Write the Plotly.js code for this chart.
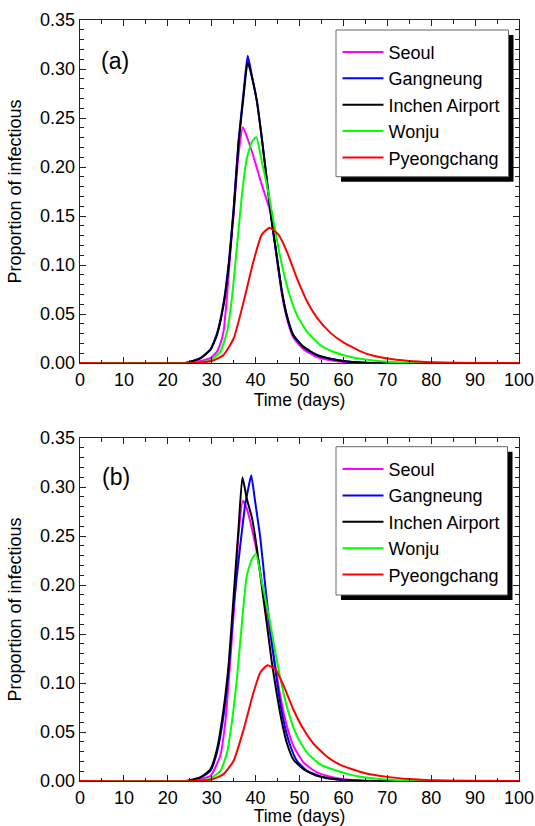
<!DOCTYPE html>
<html><head><meta charset="utf-8">
<script src="https://cdn.plot.ly/plotly-3.0.1.min.js"></script>
<style>html,body{margin:0;padding:0;background:#fff;}#chart{width:535px;height:826px;}</style>
</head><body><div id="chart"></div>
<script>
// ---------- data ----------
const seriesNames = ['Seoul', 'Gangneung', 'Inchen Airport', 'Wonju', 'Pyeongchang'];
const seriesColors = ['#ff00ff', '#0000ff', '#000000', '#00ff00', '#ff0000'];
const xTickVals = [0, 10, 20, 30, 40, 50, 60, 70, 80, 90, 100];
const yTickVals = [0.00, 0.05, 0.10, 0.15, 0.20, 0.25, 0.30, 0.35];
const panelLabels = ['(a)', '(b)'];

// Panel (a)
const tSeoulA = [0, 20, 25, 27.4, 29.7, 31.2, 32.0, 32.7, 33.5, 34.6, 35.0, 36.1, 37.1, 38.4, 39.9, 41.4, 43.3, 44.9, 46.0, 47.1, 48.6, 50.9, 54.0, 58, 62, 68, 100];
const ySeoulA = [0, 0, 0, 0.002, 0.005, 0.0116, 0.02, 0.032, 0.069, 0.134, 0.152, 0.212, 0.2405, 0.226, 0.205, 0.182, 0.155, 0.105, 0.070, 0.046, 0.026, 0.014, 0.006, 0.002, 0.0006, 0, 0];
const tGangA = [0, 20, 24, 27.4, 29.7, 31.2, 32.7, 33.9, 35.0, 36.1, 37.3, 38.2, 39.2, 40.3, 41.4, 42.6, 43.7, 44.9, 46.0, 47.1, 48.6, 50.9, 54.0, 58.5, 62, 66, 100];
const yGangA = [0, 0, 0, 0.005, 0.014, 0.030, 0.061, 0.103, 0.158, 0.226, 0.278, 0.3135, 0.292, 0.267, 0.230, 0.185, 0.144, 0.106, 0.072, 0.048, 0.028, 0.0162, 0.008, 0.003, 0.001, 0, 0];
const tInchA = [0, 20, 24, 27.4, 29.7, 31.2, 32.7, 33.9, 35.0, 36.1, 37.3, 38.2, 39.2, 40.3, 41.4, 42.6, 43.7, 44.9, 46.0, 47.1, 48.6, 50.9, 54.0, 58.5, 62, 66, 100];
const yInchA = [0, 0, 0, 0.0048, 0.0133, 0.0286, 0.059, 0.100, 0.155, 0.223, 0.274, 0.307, 0.291, 0.267, 0.230, 0.185, 0.144, 0.107, 0.073, 0.049, 0.0286, 0.0167, 0.0082, 0.003, 0.001, 0, 0];
const tWonjuA = [0, 20, 26, 29.7, 32.0, 33.5, 34.6, 35.8, 36.9, 38.0, 39.2, 40.15, 41.4, 43.0, 44.5, 46.0, 47.5, 49.4, 51.7, 54.7, 57.8, 60, 65, 70, 75, 100];
const yWonjuA = [0, 0, 0, 0.003, 0.0116, 0.032, 0.066, 0.121, 0.172, 0.209, 0.226, 0.2306, 0.206, 0.172, 0.134, 0.100, 0.073, 0.049, 0.032, 0.0184, 0.0112, 0.008, 0.0035, 0.0013, 0.0004, 0];
const tPyeongA = [0, 26, 30, 32.7, 35.0, 37.3, 39.5, 41.4, 43.2, 45.2, 47.1, 49.4, 51.7, 54.0, 57.0, 60, 65, 70, 75, 80, 88, 100];
const yPyeongA = [0, 0, 0.002, 0.0082, 0.025, 0.063, 0.1035, 0.131, 0.138, 0.131, 0.114, 0.0865, 0.063, 0.046, 0.031, 0.021, 0.0098, 0.0045, 0.002, 0.0008, 0, 0];

// Panel (b)
const tSeoulB = [0, 20, 25, 27.4, 29.7, 31.95, 33.1, 34.2, 35.4, 36.1, 37.1, 38.0, 39.5, 41.1, 42.6, 44.1, 45.6, 47.1, 48.6, 50.9, 54.0, 57.8, 62, 68, 100];
const ySeoulB = [0, 0, 0, 0.002, 0.005, 0.0257, 0.060, 0.121, 0.196, 0.2505, 0.286, 0.278, 0.2505, 0.213, 0.169, 0.128, 0.087, 0.0564, 0.036, 0.019, 0.0087, 0.0036, 0.001, 0, 0];
const tGangB = [0, 20, 25, 27.4, 29.7, 31.2, 32.7, 33.9, 35.0, 36.5, 37.6, 38.4, 39.0, 39.9, 41.1, 42.2, 43.3, 44.5, 45.6, 46.8, 47.9, 49.4, 51.7, 55.5, 60, 66, 100];
const yGangB = [0, 0, 0, 0.0036, 0.0104, 0.029, 0.0666, 0.114, 0.179, 0.240, 0.281, 0.300, 0.312, 0.285, 0.247, 0.199, 0.155, 0.114, 0.080, 0.053, 0.036, 0.0206, 0.0104, 0.0036, 0.001, 0, 0];
const tInchB = [0, 20, 24, 27.4, 29.7, 31.2, 32.7, 33.9, 35.0, 36.1, 37.0, 38.0, 39.2, 40.3, 41.4, 42.6, 43.7, 44.9, 46.0, 47.1, 48.6, 50.9, 54.0, 58, 62, 66, 100];
const yInchB = [0, 0, 0, 0.0036, 0.012, 0.0325, 0.073, 0.121, 0.189, 0.257, 0.310, 0.288, 0.268, 0.237, 0.199, 0.159, 0.121, 0.087, 0.060, 0.039, 0.022, 0.012, 0.0053, 0.002, 0.0005, 0, 0];
const tWonjuB = [0, 20, 26, 29.7, 32.0, 33.5, 34.6, 35.8, 36.9, 38.0, 39.2, 40.1, 41.4, 43.0, 44.5, 46.0, 47.5, 49.4, 51.7, 54.7, 58.5, 62, 66, 72, 100];
const yWonjuB = [0, 0, 0, 0.0026, 0.0104, 0.029, 0.060, 0.107, 0.162, 0.2096, 0.2266, 0.2317, 0.203, 0.169, 0.131, 0.097, 0.070, 0.046, 0.029, 0.017, 0.0104, 0.006, 0.003, 0.001, 0];
const tPyeongB = [0, 26, 30, 32.7, 35.0, 37.3, 39.5, 41.1, 42.7, 44.5, 46.4, 48.6, 50.9, 53.2, 56.2, 59.3, 62, 65, 70, 75, 80, 85, 100];
const yPyeongB = [0, 0, 0.0015, 0.007, 0.0206, 0.053, 0.090, 0.111, 0.118, 0.114, 0.097, 0.073, 0.053, 0.038, 0.025, 0.0165, 0.012, 0.008, 0.0042, 0.002, 0.0008, 0.0002, 0];

// ---------- build ----------
const panelA = [[tSeoulA, ySeoulA], [tGangA, yGangA], [tInchA, yInchA], [tWonjuA, yWonjuA], [tPyeongA, yPyeongA]];
const panelB = [[tSeoulB, ySeoulB], [tGangB, yGangB], [tInchB, yInchB], [tWonjuB, yWonjuB], [tPyeongB, yPyeongB]];

const FONT = 'Liberation Sans, Arial, sans-serif';
const traces = [];
panelA.forEach((s, i) => traces.push({
  x: s[0], y: s[1], name: seriesNames[i], type: 'scatter', mode: 'lines',
  line: {color: seriesColors[i], width: 2, shape: 'spline', smoothing: 0.5},
  xaxis: 'x', yaxis: 'y', legend: 'legend', hoverinfo: 'skip'
}));
panelB.forEach((s, i) => traces.push({
  x: s[0], y: s[1], name: seriesNames[i], type: 'scatter', mode: 'lines',
  line: {color: seriesColors[i], width: 2, shape: 'spline', smoothing: 0.5},
  xaxis: 'x2', yaxis: 'y2', legend: 'legend2', hoverinfo: 'skip'
}));

// page geometry (px)
const W = 535, H = 826, ML = 80, MR = 16, MT = 20, MB = 45;
const PW = W - ML - MR, PH = H - MT - MB;
const px2x = px => (px - ML) / PW;
const px2y = py => (H - MB - py) / PH;

function xAxis(anchor) {
  return {
    anchor: anchor, range: [0, 100], tickvals: xTickVals, ticktext: xTickVals.map(String),
    ticks: 'inside', ticklen: 6, tickwidth: 1, tickcolor: '#222',
    minor: {ticks: 'inside', dtick: 5, tick0: 0, ticklen: 3.5, tickwidth: 1, tickcolor: '#222'},
    showline: true, linecolor: '#222', linewidth: 1.3, mirror: 'ticks',
    showgrid: false, zeroline: false,
    tickfont: {family: FONT, size: 18, color: '#000'},
    title: {text: 'Time (days)\u00a0\u00a0\u00a0\u00a0', font: {family: FONT, size: 17.5, color: '#000'}, standoff: 4}
  };
}
function yAxis(anchor, domain) {
  return {
    anchor: anchor, domain: domain, range: [0, 0.35], tickvals: yTickVals, ticktext: yTickVals.map(v => v.toFixed(2)),
    ticks: 'inside', ticklen: 6, tickwidth: 1, tickcolor: '#222',
    minor: {ticks: 'inside', dtick: 0.01, tick0: 0, ticklen: 4, tickwidth: 1, tickcolor: '#222'},
    showline: true, linecolor: '#222', linewidth: 1.3, mirror: 'ticks',
    showgrid: false, zeroline: false,
    tickfont: {family: FONT, size: 18, color: '#000'},
    title: {text: 'Proportion of infectious', font: {family: FONT, size: 18, color: '#000'}, standoff: 13}
  };
}

const topBottomPx = 363, botTopPx = 438;
const legendCommon = {
  xanchor: 'left', yanchor: 'top', bgcolor: 'rgba(0,0,0,0)', borderwidth: 0,
  font: {family: FONT, size: 18, color: '#000'}, itemwidth: 41, tracegroupgap: 0
};

// legend frames (px): [left, top, right, bottom]
const frameA = [336, 30, 508.5, 176.7];
const frameB = [336, 446.7, 507.5, 595];
const SH = 5;
function frameShapes(f) {
  return [
    {type: 'rect', xref: 'paper', yref: 'paper', x0: px2x(f[0] + SH), x1: px2x(f[2] + SH), y0: px2y(f[1] + SH), y1: px2y(f[3] + SH), fillcolor: '#000', line: {width: 0}, layer: 'above'},
    {type: 'rect', xref: 'paper', yref: 'paper', x0: px2x(f[0]), x1: px2x(f[2]), y0: px2y(f[1]), y1: px2y(f[3]), fillcolor: '#fff', line: {width: 1, color: '#666'}, layer: 'above'}
  ];
}

const layout = {
  width: W, height: H, margin: {l: ML, r: MR, t: MT, b: MB},
  paper_bgcolor: '#fff', plot_bgcolor: '#fff', showlegend: true,
  xaxis: xAxis('y'),
  yaxis: yAxis('x', [px2y(topBottomPx), 1]),
  xaxis2: xAxis('y2'),
  yaxis2: yAxis('x2', [0, px2y(botTopPx)]),
  legend: Object.assign({x: px2x(337.5), y: px2y(33.7)}, legendCommon),
  legend2: Object.assign({x: px2x(337.5), y: px2y(450.8)}, legendCommon),
  annotations: [
    {text: panelLabels[0], xref: 'paper', yref: 'paper', x: px2x(115), y: px2y(61), xanchor: 'center', yanchor: 'middle', showarrow: false, font: {family: FONT, size: 23, color: '#000'}},
    {text: panelLabels[1], xref: 'paper', yref: 'paper', x: px2x(116), y: px2y(477), xanchor: 'center', yanchor: 'middle', showarrow: false, font: {family: FONT, size: 23, color: '#000'}}
  ],
  shapes: frameShapes(frameA).concat(frameShapes(frameB))
};

Plotly.newPlot('chart', traces, layout, {staticPlot: true, displayModeBar: false});
</script>
</body></html>
